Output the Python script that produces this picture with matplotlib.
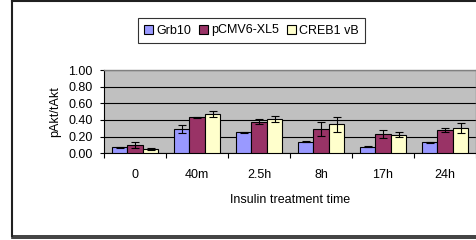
import matplotlib
matplotlib.use("Agg")
import matplotlib.pyplot as plt
import numpy as np
from matplotlib.lines import Line2D

plt.rcParams['font.family'] = ['Liberation Sans', 'DejaVu Sans']

categories = ['0', '40m', '2.5h', '8h', '17h', '24h']
series_names = ['Grb10', 'pCMV6-XL5', 'CREB1 vB']
grb10 = [0.07, 0.29, 0.25, 0.14, 0.08, 0.13]
grb10_err = [0.005, 0.05, 0.005, 0.01, 0.01, 0.01]
pcmv6 = [0.10, 0.43, 0.38, 0.29, 0.23, 0.28]
pcmv6_err = [0.035, 0.01, 0.03, 0.08, 0.05, 0.02]
creb1 = [0.05, 0.47, 0.41, 0.35, 0.22, 0.30]
creb1_err = [0.015, 0.04, 0.04, 0.09, 0.03, 0.06]
colors = ['#9999FF', '#993366', '#FFFFCC']
yticks = [0.0, 0.2, 0.4, 0.6, 0.8, 1.0]

FS = 9
W, H = 477, 240
fig = plt.figure(figsize=(W / 100, H / 100), dpi=100)
ax = fig.add_axes([104 / W, 1 - 153.3 / H, (476 - 104) / W, (153.3 - 70) / H])
ax.set_facecolor('#C0C0C0')

x = np.arange(len(categories))
bw = 0.25
data = [(grb10, grb10_err), (pcmv6, pcmv6_err), (creb1, creb1_err)]
for i, ((vals, errs), c, name) in enumerate(zip(data, colors, series_names)):
    ax.bar(x + (i - 1) * bw, vals, width=bw, color=c, edgecolor='black',
           linewidth=0.8, label=name, zorder=3,
           yerr=errs, error_kw=dict(ecolor='black', elinewidth=0.8, capsize=3, capthick=0.8, zorder=4))

ax.set_ylim(0, 1.0)
ax.set_xlim(-0.5, len(categories) - 0.5)
ax.set_yticks(yticks)
ax.set_yticklabels([f'{v:.2f}' for v in yticks], fontsize=FS)
ax.yaxis.grid(True, color='black', linewidth=0.8, zorder=1)
ax.set_axisbelow(True)

ax.set_xticks(np.arange(-0.5, len(categories), 1.0))
ax.set_xticklabels([])
ax.set_xticks(x, minor=True)
ax.set_xticklabels(categories, minor=True, fontsize=FS)
ax.tick_params(axis='x', which='major', length=3.5, width=0.8, direction='out')
ax.tick_params(axis='x', which='minor', length=0, pad=11)
ax.tick_params(axis='y', length=3, width=0.8, pad=5)

for s in ['top', 'right']:
    ax.spines[s].set_color('#808080')
    ax.spines[s].set_linewidth(1.0)
ax.spines['left'].set_color('black')
ax.spines['bottom'].set_color('black')
ax.spines['left'].set_linewidth(0.8)
ax.spines['bottom'].set_linewidth(0.8)

ax.set_ylabel('pAkt/tAkt', fontsize=FS, labelpad=5)
ax.set_xlabel('Insulin treatment time', fontsize=FS, labelpad=10)

leg = fig.legend(loc='center', bbox_to_anchor=(251.5 / W, 1 - 30.5 / H), ncol=3,
                 fontsize=FS, frameon=True, fancybox=False, edgecolor='black',
                 handlelength=0.7, handleheight=0.7, handletextpad=0.3,
                 columnspacing=0.6, borderpad=0.5)
leg.get_frame().set_linewidth(0.8)

# outer chart frame
fig.add_artist(Line2D([12 / W, 12 / W], [1 - 1 / H, 1 - 236 / H], transform=fig.transFigure, color='#202020', linewidth=1.5))
fig.add_artist(Line2D([12 / W, 1], [1 - 1 / H, 1 - 1 / H], transform=fig.transFigure, color='#202020', linewidth=1.5))
fig.add_artist(Line2D([12 / W, 1], [1 - 235.5 / H, 1 - 235.5 / H], transform=fig.transFigure, color='#202020', linewidth=1.2))
fig.add_artist(Line2D([12 / W, 1], [1 - 238.3 / H, 1 - 238.3 / H], transform=fig.transFigure, color='#202020', linewidth=1.2))

fig.savefig('out.png', dpi=100)
